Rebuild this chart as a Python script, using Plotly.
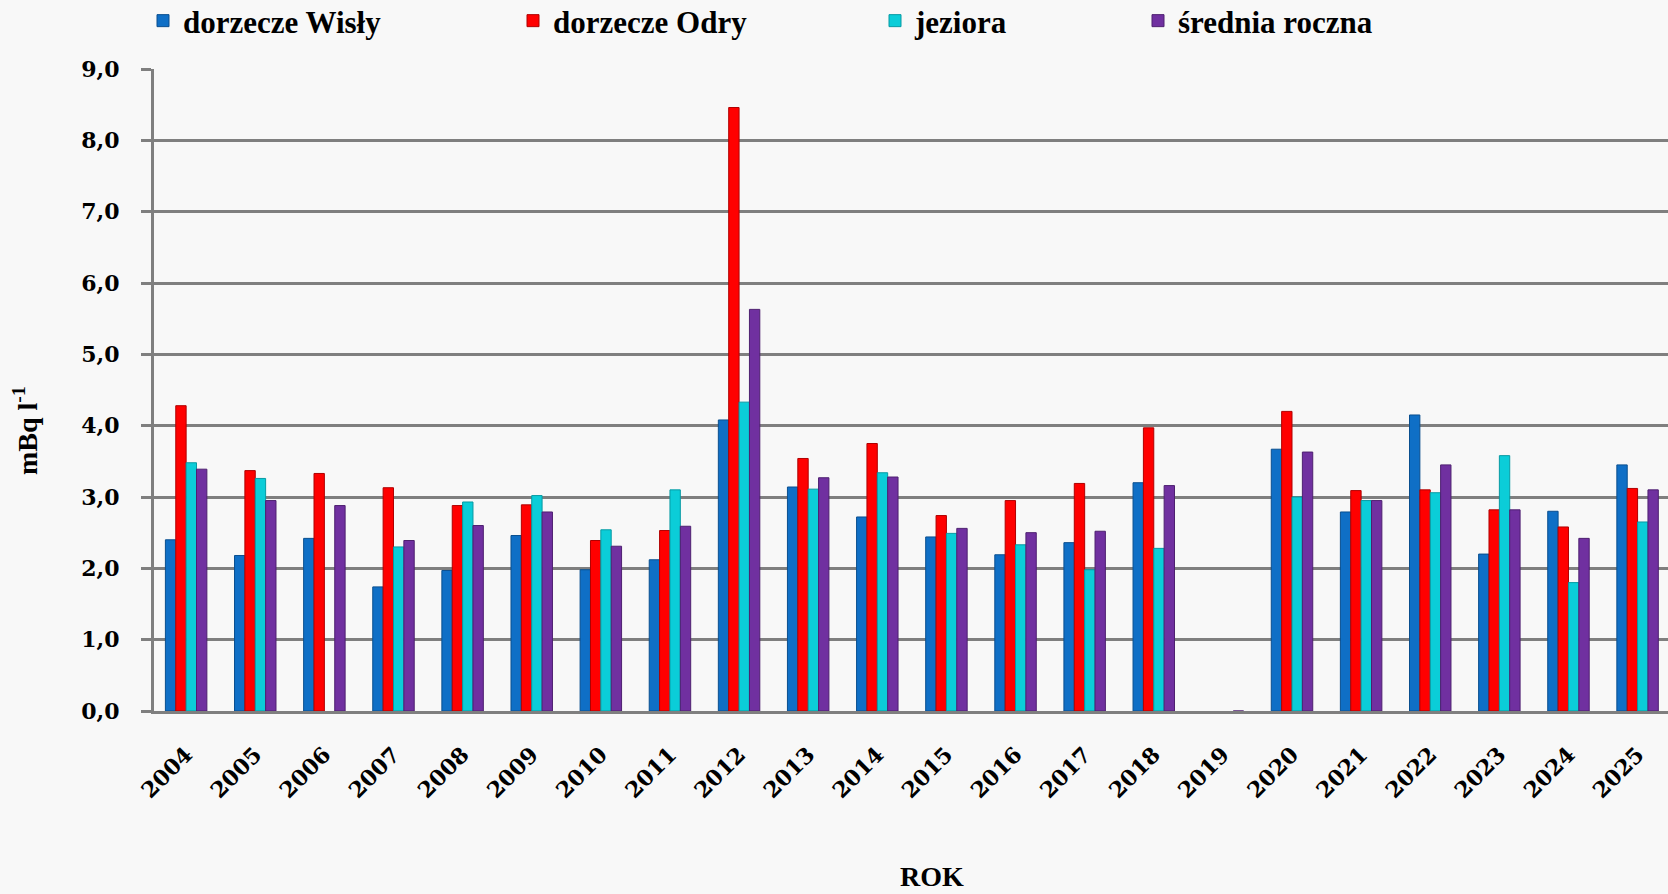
import plotly.graph_objects as go

years = [str(y) for y in range(2004, 2026)]
wisla = [2.40, 2.18, 2.42, 1.74, 1.97, 2.46, 1.98, 2.12, 4.08, 3.14, 2.72, 2.44, 2.19, 2.36, 3.20, None,
         3.67, 2.79, 4.15, 2.20, 2.80, 3.45]
odra = [4.28, 3.37, 3.33, 3.13, 2.88, 2.89, 2.39, 2.53, 8.46, 3.54, 3.75, 2.74, 2.95, 3.19, 3.97, None,
        4.20, 3.09, 3.10, 2.82, 2.58, 3.12]
jeziora = [3.48, 3.26, None, 2.30, 2.93, 3.02, 2.54, 3.10, 4.33, 3.11, 3.34, 2.49, 2.33, 1.98, 2.28, None,
           3.00, 2.95, 3.06, 3.58, 1.80, 2.65]
srednia = [3.39, 2.95, 2.88, 2.39, 2.60, 2.79, 2.31, 2.59, 5.63, 3.27, 3.28, 2.56, 2.50, 2.52, 3.16, 0.0,
           3.63, 2.95, 3.45, 2.82, 2.42, 3.10]

series = [
    ("dorzecze Wisły", wisla, "#0F6FC6", "#0a4f8f", "legend"),
    ("dorzecze Odry", odra, "#FF0000", "#b00000", "legend2"),
    ("jeziora", jeziora, "#0BCDD8", "#079aa3", "legend3"),
    ("średnia roczna", srednia, "#7030A0", "#4e2070", "legend4"),
]

y_ticks = [i for i in range(10)]
y_tick_text = [f"{v},0" for v in y_ticks]

fig = go.Figure()
for name, vals, col, dark, leg in series:
    fig.add_trace(go.Bar(
        x=years, y=vals, name=name,
        marker=dict(color=col, line=dict(color=dark, width=1)),
        legend=leg,
    ))

L, T, B = 154, 69, 711
W, H = 1668, 894
plot_w = W - L
plot_h = B - T


def px_x(px):
    return (px - L) / plot_w


def px_y(py):
    return (B - py) / plot_h


legend_font = dict(family="Liberation Serif", size=31, color="#000000", weight="bold")
common = dict(orientation="h", yanchor="middle", y=px_y(21), xanchor="left",
              font=legend_font, bgcolor="rgba(0,0,0,0)", itemwidth=30,
              itemclick=False, itemdoubleclick=False)

fig.update_layout(
    width=W, height=H,
    margin=dict(l=L, r=0, t=T, b=H - B, pad=0, autoexpand=False),
    paper_bgcolor="#f8f8f8",
    plot_bgcolor="#f8f8f8",
    barmode="group",
    bargap=0.40,
    bargroupgap=0.0,
    showlegend=True,
    legend=dict(x=px_x(143), **common),
    legend2=dict(x=px_x(513), **common),
    legend3=dict(x=px_x(875), **common),
    legend4=dict(x=px_x(1138), **common),
    xaxis=dict(
        type="category",
        range=[-0.465, 21.44],
        tickangle=-45,
        tickfont=dict(family="DejaVu Serif", size=22, color="#000000", weight="bold"),
        ticks="",
        ticklabelstandoff=19,
        showline=True, linecolor="#7f7f7f", linewidth=3,
        showgrid=False,
        automargin=False,
    ),
    yaxis=dict(
        range=[0, 9.0],
        tickvals=y_ticks,
        ticktext=y_tick_text,
        tickfont=dict(family="DejaVu Serif", size=22, color="#000000", weight="bold"),
        ticks="outside", ticklen=10, tickwidth=2.5, tickcolor="#7f7f7f",
        ticklabelstandoff=17,
        showline=True, linecolor="#7f7f7f", linewidth=3,
        showgrid=True, gridcolor="#7f7f7f", gridwidth=2.5,
        zeroline=False,
        automargin=False,
    ),
    annotations=[
        dict(text="<b>ROK</b>", xref="paper", yref="paper",
             x=px_x(932), y=px_y(876), xanchor="center", yanchor="middle",
             showarrow=False,
             font=dict(family="Liberation Serif", size=28, color="#000000")),
        dict(text="<b>mBq l<sup>-1</sup></b>", xref="paper", yref="paper",
             x=px_x(26), y=px_y(431), xanchor="center", yanchor="middle",
             textangle=-90, showarrow=False,
             font=dict(family="Liberation Serif", size=28, color="#000000")),
    ],
)

fig.write_html("out.html", config={"displayModeBar": False},
               post_script="document.body.style.margin='0';")
